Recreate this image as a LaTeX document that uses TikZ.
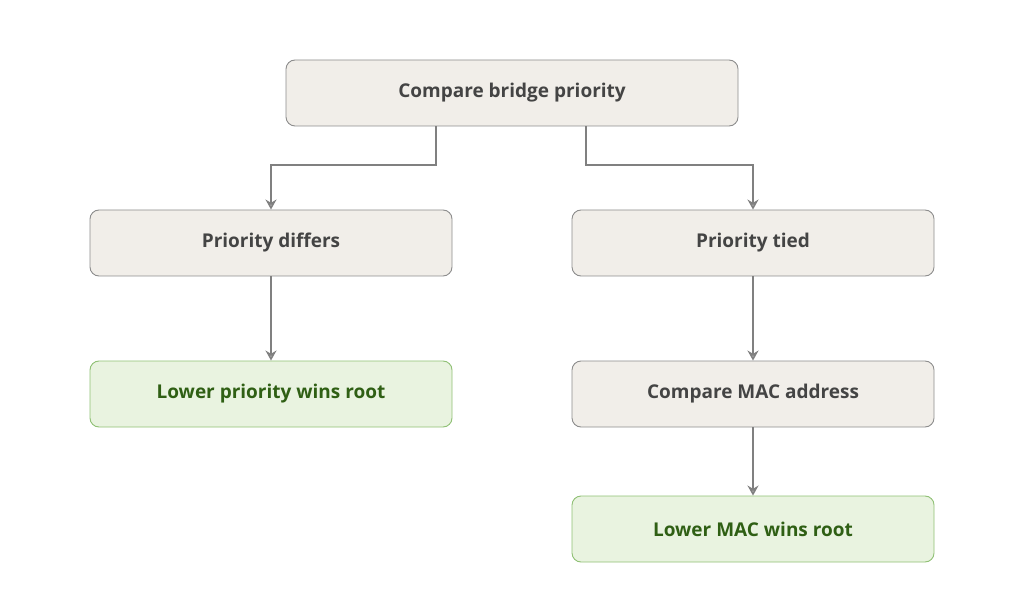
\documentclass[tikz,border=0pt]{standalone}
\usepackage{fontspec}
\setmainfont{Open Sans}
\usetikzlibrary{arrows.meta}
\definecolor{boxfill}{HTML}{F1EEE9}
\definecolor{boxline}{HTML}{8C8C8C}
\definecolor{gfill}{HTML}{E9F3E0}
\definecolor{gline}{HTML}{8FC074}
\definecolor{gtext}{HTML}{2F5F14}
\definecolor{txt}{HTML}{444444}
\definecolor{arr}{HTML}{808080}
\tikzset{
 box/.style={draw=boxline,fill=boxfill,rounded corners=9pt,line width=0.9pt,minimum width=362pt,minimum height=66pt,text=txt,font=\fontsize{19}{22}\selectfont\bfseries},
 gbox/.style={box,draw=gline,fill=gfill,text=gtext},
 conn/.style={draw=arr,line width=1.8pt,-{Stealth[length=10pt,width=11pt,open]}}
}
\begin{document}
\begin{tikzpicture}[x=1pt,y=-1pt]
\useasboundingbox (0,0) rectangle (1024,593);
\node[box,minimum width=452pt] (top) at (512,93) {Compare bridge priority};
\node[box] (pd) at (271,243) {Priority differs};
\node[box] (pt) at (753,243) {Priority tied};
\node[gbox] (lp) at (271,394) {Lower priority wins root};
\node[box] (cm) at (753,394) {Compare MAC address};
\node[gbox] (lm) at (753,529) {Lower MAC wins root};
\draw[conn] (top.south -| 436,0) |- (271,165) -- (pd.north);
\draw[conn] (top.south -| 586,0) |- (753,165) -- (pt.north);
\draw[conn] (pd) -- (lp);
\draw[conn] (pt) -- (cm);
\draw[conn] (cm) -- (lm);
\end{tikzpicture}
\end{document}
